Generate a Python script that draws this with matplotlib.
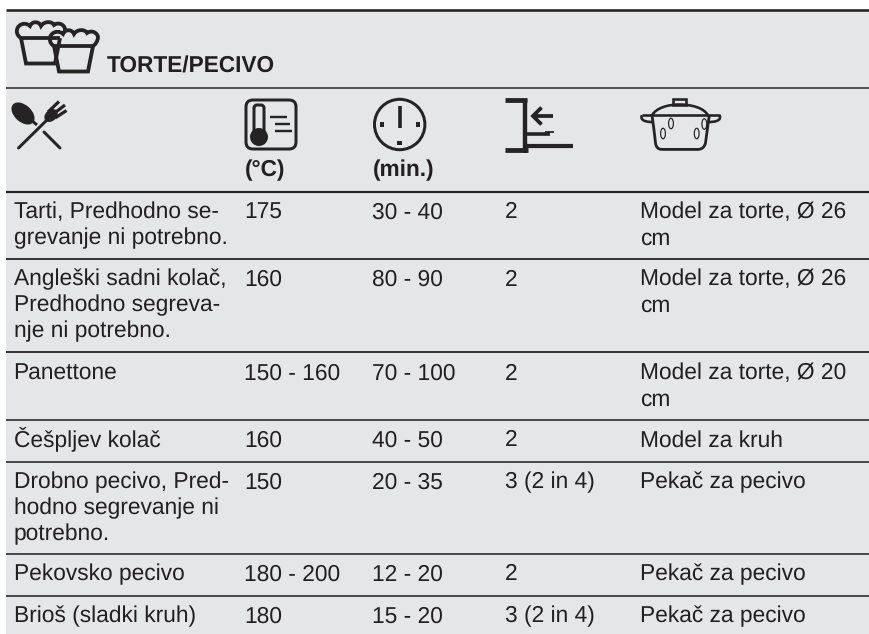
import matplotlib
matplotlib.use("Agg")
import matplotlib.pyplot as plt
from matplotlib.patches import Circle, Ellipse, FancyBboxPatch, PathPatch, Rectangle
from matplotlib.path import Path

# ---- table content ----
title = "TORTE/PECIVO"
unit_labels = ["(°C)", "(min.)"]
foods = ["Tarti, Predhodno se-\ngrevanje ni potrebno.",
         "Angleški sadni kolač,\nPredhodno segreva-\nnje ni potrebno.",
         "Panettone",
         "Češpljev kolač",
         "Drobno pecivo, Pred-\nhodno segrevanje ni\npotrebno.",
         "Pekovsko pecivo",
         "Brioš (sladki kruh)"]
temps = ["175", "160", "150 - 160", "160", "150", "180 - 200", "180"]
times = ["30 - 40", "80 - 90", "70 - 100", "40 - 50", "20 - 35", "12 - 20", "15 - 20"]
levels = ["2", "2", "2", "2", "3 (2 in 4)", "2", "3 (2 in 4)"]
pans = ["Model za torte, Ø 26\ncm", "Model za torte, Ø 26\ncm", "Model za torte, Ø 20\ncm",
        "Model za kruh", "Pekač za pecivo", "Pekač za pecivo", "Pekač za pecivo"]

# ---- layout (pixels) ----
W, H = 869, 634
col_x = [13.5, 244.5, 372.5, 505, 640.5]
row_base = [218.5, 285.5, 379.5, 446.5, 488.5, 580.5, 622.5]
rule_y = [88, 192, 259, 352, 420, 462, 554, 596]
rule_w = [1.5, 2.2, 1.8, 1.8, 1.6, 1.6, 1.6, 1.6]
line_h = 26
INK = "#262324"
TXT = "#231f20"
BG = "#e5e6e8"
px = 0.72

plt.rcParams["text.hinting"] = "no_hinting"
plt.rcParams["font.family"] = ["Liberation Sans", "DejaVu Sans"]

fig = plt.figure(figsize=(W / 100, H / 100), dpi=100, facecolor="white")
ax = fig.add_axes([0, 0, 1, 1])
ax.set_xlim(0, W)
ax.set_ylim(H, 0)
ax.axis("off")

ax.add_patch(Rectangle((6, 10), W - 6, H - 10, fc=BG, ec="none"))
ax.plot([6, W], [10, 10], color=INK, lw=2.6 * px, solid_capstyle="butt")
for y, w in zip(rule_y, rule_w):
    ax.plot([6, W], [y, y], color=INK, lw=w * px, solid_capstyle="butt")

FS = 16.4
FS_BOLD = 16.3
for i, base in enumerate(row_base):
    for x, cell in zip(col_x, (foods[i], temps[i], times[i], levels[i], pans[i])):
        for k, line in enumerate(cell.split("\n")):
            ax.text(x, base + k * line_h, line, fontsize=FS, color=TXT, va="baseline", ha="left")

ax.text(107, 72.5, title, fontsize=FS_BOLD, color=TXT, weight="bold", va="baseline", ha="left")
for x, u in zip(col_x[1:3], unit_labels):
    ax.text(x, 176.5, u, fontsize=FS_BOLD, color=TXT, weight="bold", va="baseline", ha="left")


def stroke(pts, lw, cap="butt", join="miter"):
    xs, ys = zip(*pts)
    ax.plot(xs, ys, color=INK, lw=lw * px, solid_capstyle=cap, solid_joinstyle=join)


def curve(verts, lw=2.4, fc="none"):
    codes = [Path.MOVETO] + [Path.CURVE4] * (len(verts) - 1)
    ax.add_patch(PathPatch(Path(verts, codes), fc=fc, ec=INK, lw=lw * px))


def cake(dx, dy):
    outline = [(54, 46), (50, 44), (48, 38), (52, 34),
               (55, 31), (60, 31), (63, 34),
               (65, 29), (72, 29), (74, 34),
               (77, 29), (85, 29), (87, 33),
               (91, 30), (97, 32), (98, 37),
               (98, 41), (95, 45), (93, 46)]
    curve([(x + dx, y + dy) for x, y in outline], lw=3.8, fc=BG)
    cup = [(54, 46), (59, 71.5), (88, 71.5), (93, 46)]
    pts = [(x + dx, y + dy) for x, y in cup]
    xs, ys = zip(*pts)
    ax.fill(xs, ys, color=BG, lw=0)
    stroke(pts, 3.8)
    stroke([(54 + dx, 46 + dy), (93 + dx, 46 + dy)], 3.8)


cake(-33, -8)
cake(0, 0)

# spoon and fork
ax.add_patch(Ellipse((23, 113.5), 27, 17, angle=42, fc=INK, ec="none"))
stroke([(23, 113), (37, 125)], 3)
stroke([(44, 132), (60, 148)], 3, cap="round")
stroke([(18.5, 148), (50, 117)], 3, cap="round")
ax.add_patch(Ellipse((51, 115.5), 15, 11, angle=-42, fc=INK, ec="none"))
stroke([(48, 112), (59, 101.5)], 3.2)
stroke([(52, 115), (65, 105)], 3.2)
stroke([(55, 118), (66.5, 110.5)], 3.2)

# thermometer
ax.add_patch(FancyBboxPatch((250.5, 104.5), 41, 40, boxstyle="round,pad=4.5,rounding_size=7",
                            fc="none", ec=INK, lw=3 * px))
ax.add_patch(FancyBboxPatch((256, 107), 6, 26, boxstyle="round,pad=2,rounding_size=3",
                            fc=BG, ec=INK, lw=3 * px))
ax.add_patch(Circle((259, 137), 9, fc=INK, ec="none"))
stroke([(270, 117), (286.5, 117)], 2.4)
stroke([(275, 124.3), (289.5, 124.3)], 2.4)
stroke([(275, 131.3), (291.5, 131.3)], 2.4)

# clock
ax.add_patch(Circle((399.7, 124.5), 25.2, fc="none", ec=INK, lw=3 * px))
stroke([(399.7, 106), (399.7, 127.5)], 3.6)
for cx, cy in [(382, 124.7), (418, 124.7), (399.7, 143)]:
    ax.add_patch(Rectangle((cx - 2.4, cy - 2.4), 4.8, 4.8, fc=INK, ec="none"))

# shelf level
stroke([(525, 98.5), (525, 152.5)], 4.4)
stroke([(505, 100.3), (527, 100.3)], 4.8)
stroke([(505, 150.3), (528, 150.3)], 4.8)
stroke([(527, 145.5), (573, 145.5)], 4.2)
stroke([(527, 134), (550, 134)], 3.6)
stroke([(545, 132), (554, 132)], 1.8)
stroke([(534, 116), (553, 116)], 3.8)
stroke([(541.5, 107.5), (533, 116), (541.5, 124.5)], 3.8)

# pot
ax.add_patch(Rectangle((673, 99), 13, 5.5, fc="none", ec=INK, lw=2.6 * px))
curve([(652, 115.3), (656, 108), (668, 104.5), (679, 104.5),
       (692, 104.5), (704, 108), (708, 115.3)], lw=2.6)
stroke([(641.5, 115.3), (720, 115.3)], 2.6)
curve([(652, 115.3), (653.5, 125), (654.5, 135), (655.5, 143),
       (656, 147), (658, 149.4), (662, 149.4),
       (675, 149.4), (688, 149.4), (698, 149.4),
       (702, 149.4), (704.5, 147), (705.5, 143),
       (706.5, 135), (708, 125), (709.3, 115.3)], lw=2.8)
curve([(642, 115.3), (640.5, 118), (641.5, 122), (652.5, 122)], lw=2.6)
curve([(719.5, 115.3), (721, 118), (720, 122), (709, 122)], lw=2.6)
for cx, cy in [(671, 123.5), (663, 133.5), (704.3, 124), (696.7, 133.5)]:
    ax.add_patch(Ellipse((cx, cy), 4.8, 10.5, fc="none", ec=INK, lw=1.2 * px))

fig.savefig("out.png", dpi=100, facecolor="white")
